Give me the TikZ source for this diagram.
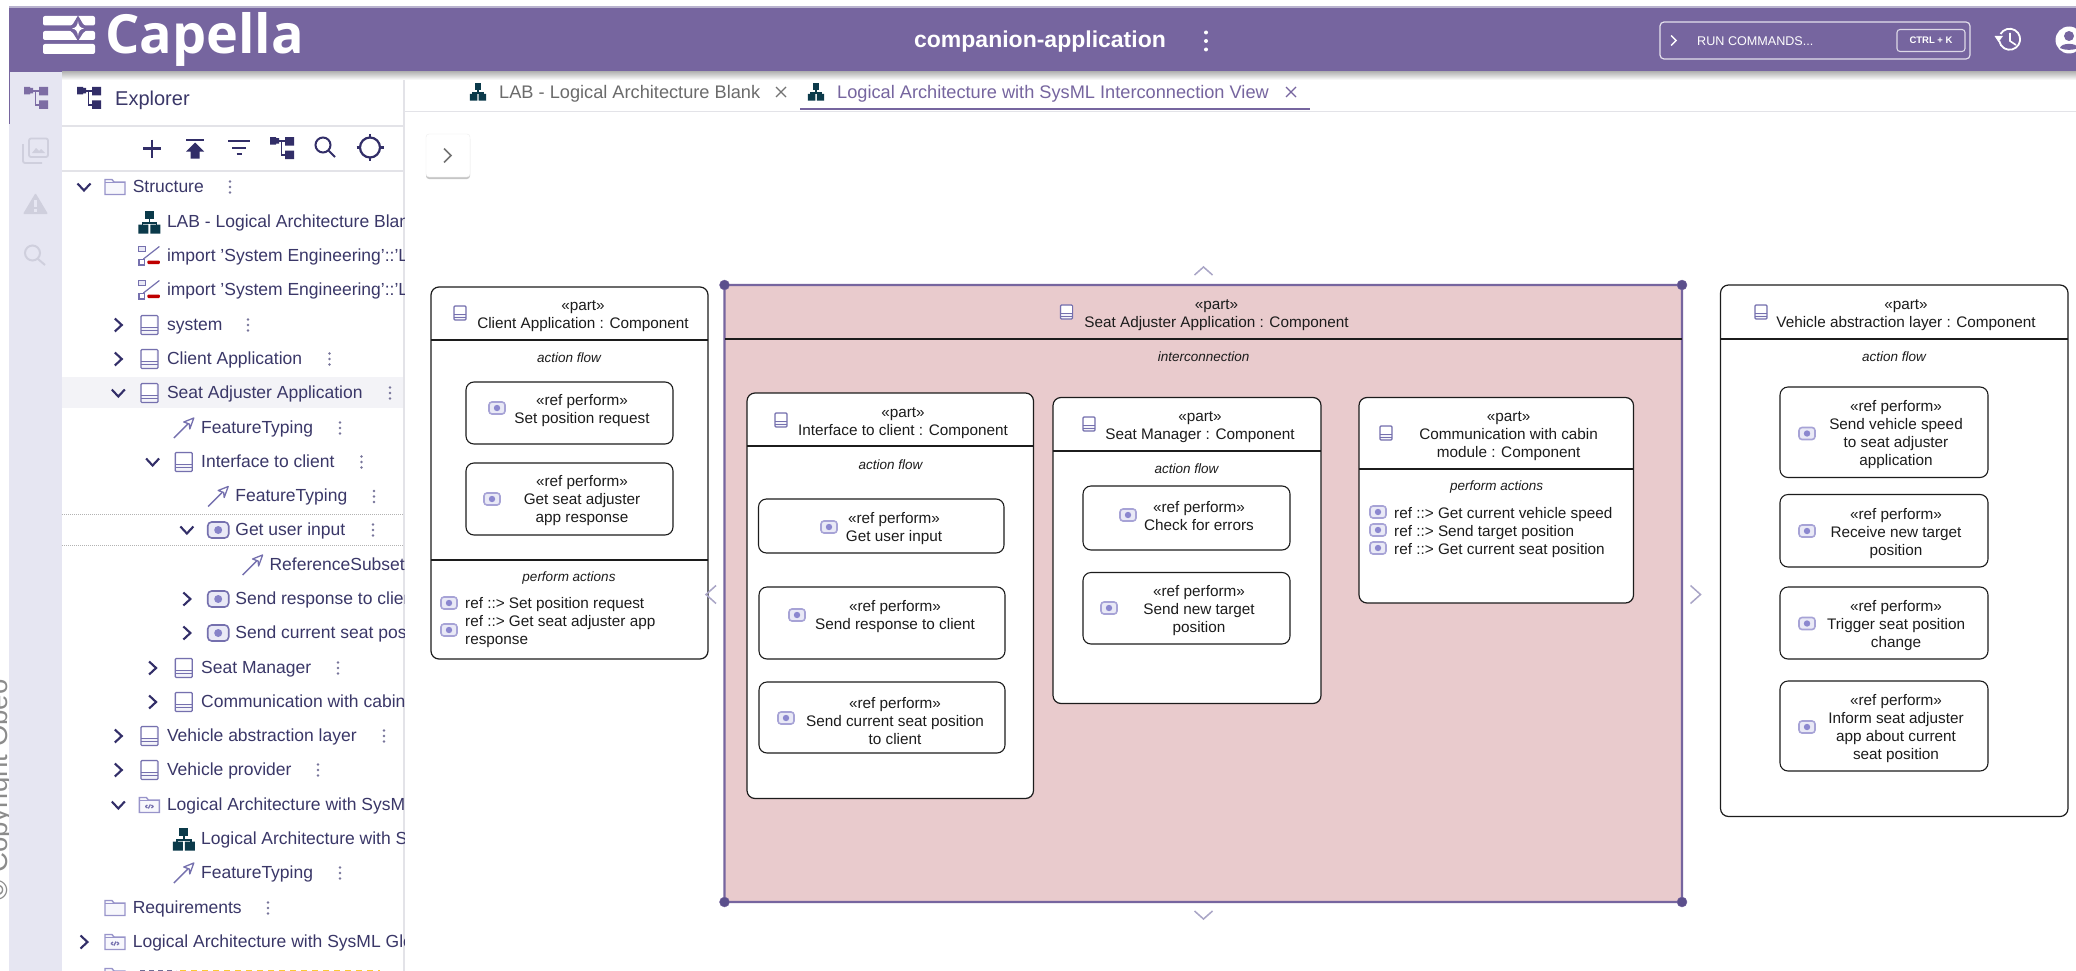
\documentclass[tikz,border=0pt]{standalone}
\usepackage{fontspec}
\setmainfont{Liberation Sans}
\newfontfamily\capfont{Open Sans}
\usetikzlibrary{shadows}
\definecolor{hdr}{HTML}{76659F}
\definecolor{hdrtop}{HTML}{B9B3CE}
\definecolor{rail}{HTML}{E6E6F2}
\definecolor{railicon}{HTML}{CFCFDD}
\definecolor{navy}{HTML}{322E68}
\definecolor{treetxt}{HTML}{3A3768}
\definecolor{iconpur}{HTML}{7570AE}
\definecolor{iconsoft}{HTML}{A7A3D6}
\definecolor{iconfill}{HTML}{E9E9F6}
\definecolor{icondot}{HTML}{8C88CF}
\definecolor{teal}{HTML}{0B3A4A}
\definecolor{sep}{HTML}{E3E3E8}
\definecolor{hi}{HTML}{F3F3F7}
\definecolor{seat}{HTML}{E9CBCD}
\definecolor{hand}{HTML}{5B4F8C}
\definecolor{chevsoft}{HTML}{A9A5C6}
\definecolor{keb}{HTML}{77749A}
\definecolor{ink}{HTML}{1C1C1C}
\tikzset{
  partbox/.style={draw=ink,fill=white,line width=1.2pt,rounded corners=8pt,inner sep=0pt,outer sep=0pt},
  refbox/.style={draw=ink,fill=white,line width=1.1pt,rounded corners=8pt,inner sep=0pt,outer sep=0pt},
  selbox/.style={draw=hdr,fill=seat,line width=2.2pt,rounded corners=2pt,inner sep=0pt,outer sep=0pt},
  hline/.style={draw=ink,line width=1.2pt},
  lbl/.style={font=\fontsize{15.3}{18}\selectfont,align=center,text=ink,inner sep=0pt,yshift=-1.3pt},
  lbll/.style={font=\fontsize{15.3}{18}\selectfont,align=left,text=ink,inner sep=0pt,anchor=west,yshift=-1.3pt},
  ital/.style={font=\fontsize{13.5}{16}\selectfont\itshape,text=ink,inner sep=0pt},
  treelbl/.style={font=\fontsize{17.5}{20}\selectfont,text=treetxt,inner sep=0pt,anchor=west,yshift=-1.4pt},
  handle/.style={circle,fill=hand,draw=hdr,inner sep=0pt,minimum size=10pt},
  softchev/.style={draw=chevsoft,line width=1.5pt},
}
\newcommand{\bx}[6][partbox]{%
  \pgfmathsetmacro\bxw{#5-#3}\pgfmathsetmacro\bxh{#6-#4}%
  \pgfmathsetmacro\bxx{(#3+#5)/2}\pgfmathsetmacro\bxy{(#4+#6)/2}%
  \node[#1,minimum width=\bxw pt,minimum height=\bxh pt] (#2) at (\bxx,\bxy) {};}
% component icon: cx cy w h colour
\newcommand{\compicon}[5]{%
  \begin{scope}[shift={(#1,#2)},xscale=#3/12,yscale=#4/14]
    \draw[#5,line width=1.2pt,fill=iconfill!50,rounded corners=1pt] (-6,-7) rectangle (6,7);
    \fill[white] (-5,-6) rectangle (5,1.5);
    \draw[#5,line width=1pt] (-6,1.5) -- (6,1.5) (-6,4.3) -- (6,4.3);
  \end{scope}}
\newcommand{\acticon}[5]{%
  \begin{scope}[shift={(#1,#2)},xscale=#3/16,yscale=#4/12]
    \draw[#5,line width=1.6pt,fill=iconfill,rounded corners=3pt] (-8,-6) rectangle (8,6);
    \fill[icondot] (0,0) ellipse (3.2 and 3.2);
  \end{scope}}
\newcommand{\chevR}[2]{\draw[navy,line width=2.1pt,line join=miter] ({#1-3.5},{#2-6.5}) -- ({#1+3.5},#2) -- ({#1-3.5},{#2+6.5});}
\newcommand{\chevD}[2]{\draw[navy,line width=2.1pt,line join=miter] ({#1-6.5},{#2-3.5}) -- (#1,{#2+3.5}) -- ({#1+6.5},{#2-3.5});}
\newcommand{\chevN}[2]{}
\newcommand{\kebab}[3][keb]{\fill[#1] (#2,{#3-5.5}) circle (1.4) (#2,#3) circle (1.4) (#2,{#3+5.5}) circle (1.4);}
\newcommand{\icocomp}[2]{\compicon{#1}{#2}{17}{19}{iconpur}}
\newcommand{\icoact}[2]{%
  \begin{scope}[shift={(#1,#2)}]
    \draw[iconpur,line width=1.6pt,fill=iconfill,rounded corners=4pt] (-10.5,-8) rectangle (10.5,8);
    \fill[icondot!80!iconpur] (0,0) circle (4);
  \end{scope}}
\newcommand{\icodiag}[2]{%
  \begin{scope}[shift={(#1,#2)}]
    \fill[teal] (-4.5,-11.5) rectangle (4.5,-3);
    \draw[teal,line width=1.6pt] (0,-3) -- (0,1) (-7,3) -- (-7,1) -- (7,1) -- (7,3);
    \fill[teal] (-11,2.5) rectangle (-1,11.5) (1,2.5) rectangle (11,11.5);
  \end{scope}}
\newcommand{\icoimp}[2]{%
  \begin{scope}[shift={(#1,#2)}]
    \draw[iconpur,line width=1pt,fill=iconfill] (-10.5,-9.5) rectangle (-3.5,-4.5);
    \draw[iconpur,line width=1.2pt] (-6,3) -- (10,-9.5);
    \draw[iconpur,line width=1.2pt,fill=white] (-10.5,3.5) rectangle (-5,9);
    \fill[red!75!black,rounded corners=1pt] (-2,4.5) rectangle (10.5,8);
  \end{scope}}
\newcommand{\icotyp}[2]{%
  \begin{scope}[shift={(#1,#2)}]
    \draw[iconpur,line width=1.4pt] (-10,10) -- (4,-4);
    \draw[iconpur,line width=1.3pt,line join=round,fill=white] (10,-10) -- (0,-6) -- (5.5,-4) -- (6,1) -- cycle;
  \end{scope}}
\newcommand{\icofold}[2]{%
  \begin{scope}[shift={(#1,#2)}]
    \draw[iconsoft!70!iconpur,line width=1.4pt,fill=iconfill!35] (-10,-7.5) -- (-3,-7.5) -- (-1,-5) -- (10,-5) -- (10,7.5) -- (-10,7.5) -- cycle;
    \draw[iconsoft!70!iconpur,line width=1pt] (-10,-4.2) -- (10,-4.2);
  \end{scope}}
\newcommand{\icocode}[2]{%
  \icofold{#1}{#2}%
  \begin{scope}[shift={(#1,#2)}]
    \draw[iconpur,line width=1.2pt] (-4,1.5) -- (-2,0) (-4,1.5) -- (-2,3) (4,1.5) -- (2,0) (4,1.5) -- (2,3) (1,-0.5) -- (-1,3.5);
  \end{scope}}
% tree row: name y icon depth chevron text kebabx
\newcommand{\trow}[7]{%
  \pgfmathsetmacro\chx{84+34.3*#4}\pgfmathsetmacro\icx{115+34.4*#4}\pgfmathsetmacro\txx{132.6+34.2*#4}%
  \csname chev#5\endcsname{\chx}{#2}%
  \csname ico#3\endcsname{\icx}{#2}%
  \node[treelbl] (#1) at (\txx,#2) {\strut #6};%
  \if\relax\detokenize{#7}\relax\else\kebab{#7}{#2}\fi}
% tree-shaped explorer icon
\newcommand{\icotree}[3]{%
  \begin{scope}[shift={(#1,#2)}]
    \fill[#3] (-12,-11) rectangle (-6,-3.5) (-6,-10) rectangle (-3,-4.5) (3,-11) rectangle (12,-2.5) (3,2.5) rectangle (12,11);
    \draw[#3,line width=1.6pt] (-3,-7) -- (3,-7) (-0.5,-7) -- (-0.5,7) -- (3,7);
  \end{scope}}
\newcommand{\closex}[3]{\draw[#3,line width=1.3pt] ({#1-5},{#2-5}) -- ({#1+5},{#2+5}) ({#1-5},{#2+5}) -- ({#1+5},{#2-5});}
\begin{document}
\begin{tikzpicture}[x=1pt,y=-1pt]
\useasboundingbox (0,0) rectangle (2076,971);
\fill[white] (0,0) rectangle (2076,971);
% copyright, partly hidden by the rail
\begin{scope}
  \clip (0,0) rectangle (9,971);
  \node[rotate=90,anchor=base,inner sep=0pt,text=black!45,font=\fontsize{27.6}{30}\selectfont] (copy) at (8,790) {© Copyright Obeo};
\end{scope}
% rail and panels
\fill[rail] (9,72) rectangle (62,971);
\fill[hi] (62,377) rectangle (404,408);
\draw[sep,line width=1.4pt] (404,72) -- (404,971);
\draw[sep,line width=1.2pt] (62,126) -- (404,126) (62,171) -- (404,171) (404,111.5) -- (2076,111.5);
\draw[black!30,line width=1pt,densely dotted] (62,514) -- (404,514) (62,545) -- (404,545);
% header
\fill[hdrtop] (9,6) rectangle (2076,8);
\fill[hdr] (9,8) rectangle (2076,72);
\shade[top color=black!28,bottom color=white] (62,72) rectangle (2076,80);
\draw[hdr,line width=1pt] (9,72) -- (9,124);
% logo
\fill[white,rounded corners=2pt] (43,16) rectangle (95,25.5) (43,31) rectangle (95,40) (43,44) rectangle (95,54);
\fill[hdr] (78,15.5) -- (83,24) -- (88.5,28.5) -- (83,33) -- (78,41) -- (73,33) -- (67.5,28.5) -- (73,24) -- cycle;
\fill[white] (78,21) .. controls (78.6,26) and (80,27.8) .. (84,28.5) .. controls (80,29.2) and (78.6,31) .. (78,36) .. controls (77.4,31) and (76,29.2) .. (72,28.5) .. controls (76,27.8) and (77.4,26) .. (78,21) -- cycle;
\node[anchor=base west,inner sep=0pt,text=white,font=\capfont\bfseries\fontsize{54}{58}\selectfont] (capella) at (105,54) {Capella};
\node[text=white,inner sep=0pt,font=\bfseries\fontsize{23}{26}\selectfont] (proj) at (1040,42) {companion-application};
\fill[white] (1206,32.5) circle (2) (1206,41) circle (2) (1206,49.5) circle (2);
\node[draw=white!80!hdr,line width=1.2pt,rounded corners=4pt,minimum width=310pt,minimum height=37pt,inner sep=0pt] (cmd) at (1815,40.5) {};
\draw[white,line width=1.4pt] (1671,35.5) -- (1676,40.5) -- (1671,45.5);
\node[anchor=west,text=white,inner sep=0pt,font=\fontsize{12.6}{15}\selectfont] (runc) at (1697,41) {RUN COMMANDS...};
\node[draw=white!75!hdr,line width=1.1pt,rounded corners=3pt,minimum width=68pt,minimum height=22pt,inner sep=0pt,text=white,font=\bfseries\fontsize{9.5}{11}\selectfont] (ctrl) at (1931,40.5) {CTRL + K};
% history icon
\draw[white,line width=1.8pt] (2000.5,34) arc[start angle=-150,end angle=170,radius=10.5];
\fill[white] (1994.5,36) -- (2003,36) -- (1998.5,42) -- cycle;
\draw[white,line width=1.6pt] (2010,33) -- (2010,41) -- (2016,45);
% account icon
\fill[white] (2069,40) circle (13.5);
\fill[hdr] (2069,36) circle (5);
\fill[hdr] (2060,48) .. controls (2061,42.5) and (2077,42.5) .. (2078,48) .. controls (2074,50.5) and (2064,50.5) .. (2060,48) -- cycle;
% rail icons
\icotree{36}{98}{hdr!95!white}
\draw[railicon,line width=1.8pt,rounded corners=2pt] (29,138.5) rectangle (48,157) (23,144) -- (23,163) -- (42,163);
\fill[railicon] (32,153) -- (36,148) -- (39,151) -- (41,149) -- (45,153) -- cycle;
\fill[railicon,rounded corners=1pt] (35.5,193) -- (48,214) -- (23,214) -- cycle;
\draw[rail,line width=2.2pt] (35.5,200) -- (35.5,207) (35.5,209) -- (35.5,211.5);
\draw[railicon,line width=2pt] (32.5,253) circle (7.5) (38,259) -- (45,265);
% explorer title and toolbar
\icotree{89}{98}{navy}
\node[anchor=west,inner sep=0pt,text=treetxt,font=\fontsize{20}{22}\selectfont] (expl) at (115,100) {Explorer};
\draw[navy,line width=2.2pt] (143,148.5) -- (161,148.5) (152,139.5) -- (152,157.5);
\draw[navy,line width=2pt] (186,139.5) -- (204,139.5);
\fill[navy] (195,142.5) -- (204,151.5) -- (199.5,151.5) -- (199.5,158.5) -- (190.5,158.5) -- (190.5,151.5) -- (186,151.5) -- cycle;
\draw[navy,line width=2pt] (228,141) -- (250,141) (232,147.5) -- (246,147.5) (236.5,154) -- (241.5,154);
\icotree{282}{148}{navy}
\draw[navy,line width=2pt] (323,145) circle (7.5) (328.5,150.5) -- (335,157);
\draw[navy,line width=2.2pt] (370,147.5) circle (10);
\draw[navy,line width=2.4pt] (370,134) -- (370,138) (370,157) -- (370,161) (356.5,147.5) -- (360.5,147.5) (379.5,147.5) -- (383.5,147.5);
% tabs
\begin{scope}[shift={(478,92)},scale=.74]\icodiag{0}{0}\end{scope}
\node[anchor=west,inner sep=0pt,text=black!58,font=\fontsize{18.2}{20}\selectfont] (tab1) at (499,93.5) {LAB - Logical Architecture Blank};
\closex{781}{92}{black!55}
\begin{scope}[shift={(816,92)},scale=.74]\icodiag{0}{0}\end{scope}
\node[anchor=west,inner sep=0pt,text=hdr,font=\fontsize{18.2}{20}\selectfont] (tab2) at (837,93.5) {Logical Architecture with SysML Interconnection View};
\closex{1291}{92}{hdr}
\draw[hdr,line width=2pt] (800,109.5) -- (1310,109.5);
% tool button
\node[fill=white,draw=black!7,rounded corners=3pt,minimum width=44pt,minimum height=43pt,inner sep=0pt,drop shadow={shadow xshift=0pt,shadow yshift=-2pt,opacity=.45}] (tool) at (448,155.5) {};
\draw[black!55,line width=1.6pt] (444,148.5) -- (451,155.5) -- (444,162.5);
% tree
\begin{scope}
\clip (62,172) rectangle (404,971);
\trow{r1}{187}{fold}{0}{D}{Structure}{230}
\trow{r2}{222}{diag}{1}{N}{LAB - Logical Architecture Blank}{}
\trow{r3}{256}{imp}{1}{N}{import 'System Engineering'::'Logical'}{}
\trow{r4}{290}{imp}{1}{N}{import 'System Engineering'::'Logical'}{}
\trow{r5}{325}{comp}{1}{R}{system}{248}
\trow{r6}{359}{comp}{1}{R}{Client Application}{329.5}
\trow{r7}{393}{comp}{1}{D}{Seat Adjuster Application}{390}
\trow{r8}{428}{typ}{2}{N}{FeatureTyping}{340}
\trow{r9}{462}{comp}{2}{D}{Interface to client}{361.5}
\trow{r10}{496.5}{typ}{3}{N}{FeatureTyping}{374}
\trow{r11}{530}{act}{3}{D}{Get user input}{373}
\trow{r12}{565}{typ}{4}{N}{ReferenceSubsetting}{}
\trow{r13}{599}{act}{3}{R}{Send response to client}{}
\trow{r14}{633}{act}{3}{R}{Send current seat position}{}
\trow{r15}{668}{comp}{2}{R}{Seat Manager}{338}
\trow{r16}{702}{comp}{2}{R}{Communication with cabin}{}
\trow{r17}{736}{comp}{1}{R}{Vehicle abstraction layer}{384}
\trow{r18}{770}{comp}{1}{R}{Vehicle provider}{318}
\trow{r19}{805}{code}{1}{D}{Logical Architecture with SysML}{}
\trow{r20}{839}{diag}{2}{N}{Logical Architecture with SysML}{}
\trow{r21}{873}{typ}{2}{N}{FeatureTyping}{340}
\trow{r22}{908}{fold}{0}{N}{Requirements}{268}
\trow{r23}{942}{code}{0}{R}{Logical Architecture with SysML Glossary}{}
\icofold{115}{976}
\draw[navy!70,line width=1pt,dash pattern=on 5pt off 4pt] (140,970.7) -- (176,970.7);
\draw[yellow!50!orange!80!white,line width=1pt,dash pattern=on 6pt off 5pt] (180,970.7) -- (380,970.7);
\end{scope}
% client application
\bx{client}{431}{287}{708}{659}
\draw[hline] (client.west |- 0,340) -- (client.east |- 0,340);
\draw[hline] (client.west |- 0,560) -- (client.east |- 0,560);
\compicon{460}{313}{12}{14}{iconpur}
\node[lbl] (clientT) at (583,314.5) {«part»\\Client Application : Component};
\node[ital] (clientF) at (569,358) {action flow};
\bx[refbox]{c1}{466}{382}{673}{444}
\acticon{497}{408}{16}{12}{iconsoft}
\node[lbl] (c1T) at (582,409) {«ref perform»\\Set position request};
\bx[refbox]{c2}{466}{463}{673}{535}
\acticon{492}{499}{16}{12}{iconsoft}
\node[lbl] (c2T) at (582,499.5) {«ref perform»\\Get seat adjuster\\app response};
\node[ital] (clientP) at (569,578) {perform actions};
\acticon{449}{603}{16}{12}{iconsoft}
\acticon{449}{630}{16}{12}{iconsoft}
\node[lbll] (clientL) at (465,621.5) {ref ::> Set position request\\ref ::> Get seat adjuster app\\response};
% seat adjuster
\bx[selbox]{seatapp}{724.5}{285}{1682}{902}
\draw[hline] (seatapp.west |- 0,339) -- (seatapp.east |- 0,339);
\compicon{1066.5}{312}{12}{14}{iconpur}
\node[lbl] (seatT) at (1216.5,313.5) {«part»\\Seat Adjuster Application : Component};
\node[ital] (seatI) at (1203.6,357) {interconnection};
\node[handle] (hNW) at (seatapp.north west) {};
\node[handle] (hNE) at (seatapp.north east) {};
\node[handle] (hSW) at (seatapp.south west) {};
\node[handle] (hSE) at (seatapp.south east) {};
% interface to client
\bx{iface}{747}{393}{1033.5}{798.5}
\draw[hline] (iface.west |- 0,446) -- (iface.east |- 0,446);
\compicon{781}{420}{12}{14}{iconpur}
\node[lbl] (ifaceT) at (903,421.5) {«part»\\Interface to client : Component};
\node[ital] (ifaceF) at (890.6,464.5) {action flow};
\bx[refbox]{i1}{758.5}{499}{1004}{553}
\acticon{829}{527}{16}{12}{iconsoft}
\node[lbl] (i1T) at (894,527.5) {«ref perform»\\Get user input};
\bx[refbox]{i2}{759}{587}{1005}{659}
\acticon{797}{615}{16}{12}{iconsoft}
\node[lbl] (i2T) at (895,615.5) {«ref perform»\\Send response to client};
\bx[refbox]{i3}{759}{682}{1005}{753}
\acticon{786}{718}{16}{12}{iconsoft}
\node[lbl] (i3T) at (895,719.5) {«ref perform»\\Send current seat position\\to client};
% seat manager
\bx{mgr}{1053}{397.5}{1321}{703.5}
\draw[hline] (mgr.west |- 0,451) -- (mgr.east |- 0,451);
\compicon{1089}{424}{12}{14}{iconpur}
\node[lbl] (mgrT) at (1200,425.5) {«part»\\Seat Manager : Component};
\node[ital] (mgrF) at (1186.6,469) {action flow};
\bx[refbox]{m1}{1083}{486}{1290}{550}
\acticon{1128}{515}{16}{12}{iconsoft}
\node[lbl] (m1T) at (1199,514.5) {«ref perform»\\Check for errors};
\bx[refbox]{m2}{1083}{572.5}{1290}{644}
\acticon{1109}{608}{16}{12}{iconsoft}
\node[lbl] (m2T) at (1199,609.5) {«ref perform»\\Send new target\\position};
% communication
\bx{comm}{1359}{397.5}{1633.5}{603}
\draw[hline] (comm.west |- 0,469) -- (comm.east |- 0,469);
\compicon{1386}{433}{12}{14}{iconpur}
\node[lbl] (commT) at (1508.6,434.5) {«part»\\Communication with cabin\\module : Component};
\node[ital] (commP) at (1496.5,487.5) {perform actions};
\acticon{1378}{512}{16}{12}{iconsoft}
\acticon{1378}{530}{16}{12}{iconsoft}
\acticon{1378}{548}{16}{12}{iconsoft}
\node[lbll] (commL) at (1394,531) {ref ::> Get current vehicle speed\\ref ::> Send target position\\ref ::> Get current seat position};
% vehicle abstraction layer
\bx{veh}{1720.5}{285}{2068}{816.5}
\draw[hline] (veh.west |- 0,339) -- (veh.east |- 0,339);
\compicon{1761}{312}{12}{14}{iconpur}
\node[lbl] (vehT) at (1906,313.5) {«part»\\Vehicle abstraction layer : Component};
\node[ital] (vehF) at (1894,357) {action flow};
\bx[refbox]{v1}{1780}{387}{1988}{477.5}
\acticon{1807}{433.5}{16}{12}{iconsoft}
\node[lbl] (v1T) at (1896,433) {«ref perform»\\Send vehicle speed\\to seat adjuster\\application};
\bx[refbox]{v2}{1780}{494.5}{1988}{567}
\acticon{1807}{531}{16}{12}{iconsoft}
\node[lbl] (v2T) at (1896,532) {«ref perform»\\Receive new target\\position};
\bx[refbox]{v3}{1780}{587}{1988}{659}
\acticon{1807}{623.5}{16}{12}{iconsoft}
\node[lbl] (v3T) at (1896,624.5) {«ref perform»\\Trigger seat position\\change};
\bx[refbox]{v4}{1780}{681}{1988}{771}
\acticon{1807}{727}{16}{12}{iconsoft}
\node[lbl] (v4T) at (1896,727.5) {«ref perform»\\Inform seat adjuster\\app about current\\seat position};
% expansion chevrons round the selected part
\coordinate (cT) at (1203.5,271);
\coordinate (cB) at (1203.5,915);
\coordinate (cL) at (711,594.5);
\coordinate (cR) at (1695.5,594.5);
\draw[softchev] ([xshift=-9pt,yshift=-4pt]cT) -- ([yshift=4pt]cT) -- ([xshift=9pt,yshift=-4pt]cT);
\draw[softchev] ([xshift=-9pt,yshift=4pt]cB) -- ([yshift=-4pt]cB) -- ([xshift=9pt,yshift=4pt]cB);
\draw[softchev] ([xshift=5pt,yshift=-9pt]cL) -- ([xshift=-5pt]cL) -- ([xshift=5pt,yshift=9pt]cL);
\draw[softchev] ([xshift=-5pt,yshift=-9pt]cR) -- ([xshift=5pt]cR) -- ([xshift=-5pt,yshift=9pt]cR);
\end{tikzpicture}
\end{document}
